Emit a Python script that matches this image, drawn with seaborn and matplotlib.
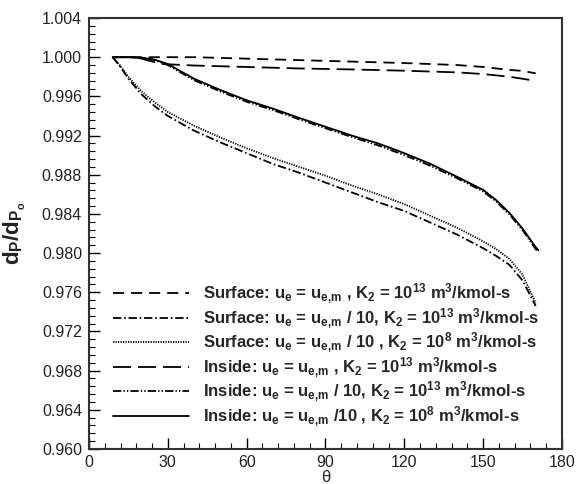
import numpy as np
import pandas as pd
import matplotlib
matplotlib.use("Agg")
import matplotlib.pyplot as plt
import seaborn as sns
from matplotlib.ticker import MultipleLocator, FormatStrFormatter

sns.set_style("ticks")
plt.rcParams['font.family'] = ['Liberation Sans', 'DejaVu Sans']
plt.rcParams['mathtext.fontset'] = 'custom'
plt.rcParams['mathtext.bf'] = 'Liberation Sans:bold'
plt.rcParams['mathtext.rm'] = 'Liberation Sans'
plt.rcParams['mathtext.it'] = 'Liberation Sans:italic'
plt.rcParams['mathtext.default'] = 'bf'
plt.rcParams['lines.scale_dashes'] = False

# ---- data ----
theta_surf_m = [9, 20, 40, 60, 80, 100, 120, 140, 150, 160, 165, 170]
surf_m = [1.0000, 1.0000, 1.0000, 0.99985, 0.9997, 0.99955, 0.9994, 0.9992, 0.9990, 0.9987, 0.9986, 0.99835]

theta_in_m = [9, 18, 22, 28, 40, 60, 80, 100, 120, 140, 150, 160, 165, 170]
in_m = [1.0000, 1.0000, 0.9997, 0.9993, 0.99915, 0.9990, 0.99885, 0.99875, 0.99862, 0.99845, 0.99828, 0.9980, 0.9978, 0.99757]

theta_low = [9, 12, 15, 20, 25, 30, 40, 50, 60, 70, 80, 90, 100, 110, 120, 130, 140, 150, 155, 160, 165, 170]
surf_10_k13 = [1.0000, 0.9990, 0.9978, 0.9962, 0.9950, 0.9940, 0.9925, 0.9913, 0.9902, 0.9891, 0.9882, 0.9872,
               0.9862, 0.9852, 0.9843, 0.9831, 0.9819, 0.9805, 0.9797, 0.9788, 0.9772, 0.9746]
surf_10_k8 = [1.0000, 0.9991, 0.9980, 0.9965, 0.9954, 0.9944, 0.9930, 0.9918, 0.9907, 0.9897, 0.9888, 0.9879,
              0.9869, 0.9860, 0.9850, 0.9838, 0.9826, 0.9812, 0.9804, 0.9794, 0.9778, 0.9749]

theta_up = [9, 15, 20, 25, 30, 40, 50, 60, 70, 80, 90, 100, 110, 120, 130, 140, 150, 155, 160, 165, 170, 171]
in_10_k13 = [1.0000, 1.0000, 0.99993, 0.9997, 0.9992, 0.99765, 0.9965, 0.99545, 0.9946, 0.99365, 0.99275, 0.99185,
             0.9910, 0.9900, 0.9889, 0.98765, 0.9863, 0.98525, 0.98395, 0.98235, 0.9804, 0.9801]
in_10_k8 = [1.0000, 1.0000, 0.99995, 0.99975, 0.9993, 0.9978, 0.99665, 0.9956, 0.99475, 0.9938, 0.9929, 0.9920,
            0.9912, 0.9902, 0.9891, 0.9878, 0.98645, 0.9854, 0.9841, 0.9825, 0.9806, 0.9803]

labels = [
    r"Surface: u$_e$ = u$_{e,\!m}$ , K$_2$ = 10$^{13}$ m$^3$/kmol-s",
    r"Surface: u$_e$ = u$_{e,\!m}$ / 10, K$_2$ = 10$^{13}$ m$^3$/kmol-s",
    r"Surface: u$_e$ = u$_{e,\!m}$ / 10 , K$_2$ = 10$^8$ m$^3$/kmol-s",
    r"Inside: u$_e$ = u$_{e,\!m}$ , K$_2$ = 10$^{13}$ m$^3$/kmol-s",
    r"Inside: u$_e$ = u$_{e,\!m}$ / 10, K$_2$ = 10$^{13}$ m$^3$/kmol-s",
    r"Inside: u$_e$ = u$_{e,\!m}$ /10 , K$_2$ = 10$^8$ m$^3$/kmol-s",
]

series = [
    (theta_surf_m, surf_m, (0, (8, 5))),
    (theta_low, surf_10_k13, (0, (6, 2, 1.2, 2))),
    (theta_low, surf_10_k8, (0, (0.9, 0.9))),
    (theta_in_m, in_m, (0, (13, 5))),
    (theta_up, in_10_k13, (0, (6, 1.5, 1, 1.5, 1, 1.5))),
    (theta_up, in_10_k8, '-'),
]

fig = plt.figure(figsize=(5.76, 4.84), dpi=100)
ax = fig.add_axes([0.1545, 0.0723, 0.8212, 0.8905])

for (xs, ys, ls), lab in zip(series, labels):
    df = pd.DataFrame({"theta": xs, "val": ys})
    sns.lineplot(data=df, x="theta", y="val", ax=ax, color="black", linewidth=1.3,
                 linestyle=ls, label=lab, sort=True, estimator=None)

ax.set_xlim(0, 180)
ax.set_ylim(0.960, 1.004)
ax.xaxis.set_major_locator(MultipleLocator(30))
ax.xaxis.set_minor_locator(MultipleLocator(6))
ax.yaxis.set_major_locator(MultipleLocator(0.004))
ax.yaxis.set_minor_locator(MultipleLocator(0.0008))
ax.yaxis.set_major_formatter(FormatStrFormatter('%.3f'))
ax.tick_params(which='both', direction='in', top=False, right=False, colors='black',
               labelcolor='#222222', labelsize=11.5)
ax.tick_params(which='major', length=8, width=1.0, pad=5, direction='in')
ax.tick_params(axis='x', which='major', pad=4)
ax.tick_params(which='minor', length=4, width=0.8, direction='in')
for sp in ax.spines.values():
    sp.set_linewidth(1.5)
    sp.set_color('#333333')

ax.set_xlabel("θ", fontsize=12, color='#222222', va='top')
ax.xaxis.set_label_coords(0.5, -0.049)
ax.set_ylabel(r"$\mathbf{d_P/d_{P_o}}$", fontsize=16, color='#222222')
ax.yaxis.set_label_coords(-0.128, 0.5)

leg = ax.legend(loc='lower left', bbox_to_anchor=(0.05, 0.047), frameon=False,
                prop={'weight': 'bold', 'size': 12}, handlelength=4.6, handletextpad=0.8,
                labelspacing=0.0, borderpad=0, borderaxespad=0)

fig.savefig("out.png", dpi=100)
